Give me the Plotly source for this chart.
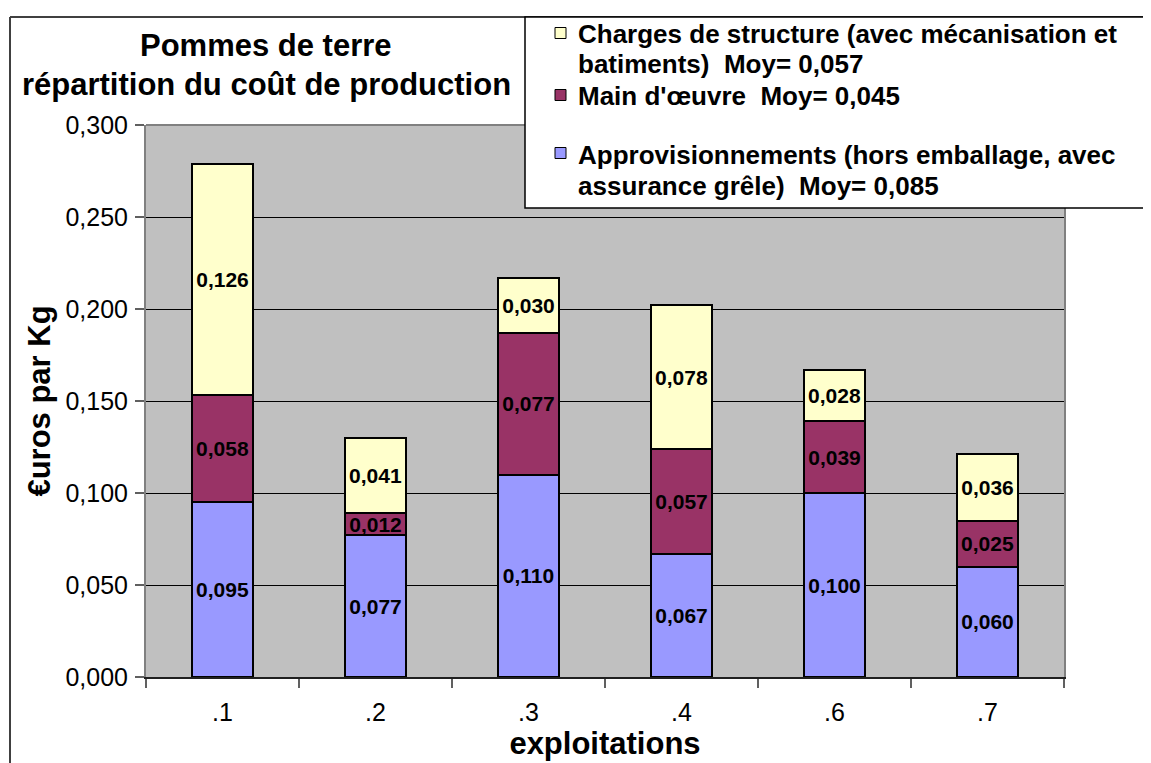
import plotly.graph_objects as go

# données (euros par kg)
categories = [".1", ".2", ".3", ".4", ".6", ".7"]
appro = [0.095, 0.077, 0.110, 0.067, 0.100, 0.060]
main_oeuvre = [0.058, 0.012, 0.077, 0.057, 0.039, 0.025]
charges = [0.126, 0.041, 0.030, 0.078, 0.028, 0.036]
y_ticks = [0.0, 0.05, 0.10, 0.15, 0.20, 0.25, 0.30]

title_lines = ["Pommes de terre", "répartition du coût de production"]
legend_charges = ["Charges de structure (avec mécanisation et", "batiments)\u00a0 Moy= 0,057"]
legend_main = ["Main d'œuvre\u00a0 Moy= 0,045"]
legend_appro = ["Approvisionnements (hors emballage, avec", "assurance grêle)\u00a0 Moy= 0,085"]

FONT = "Liberation Sans, Arial, sans-serif"
OFF = 8  # marge du body html
W, H = 1151 - OFF, 763 - OFF
L, R, T, B = 146, 1064, 125, 677  # zone de tracé, en pixels de l'écran


def px(x):
    return (x - L) / (R - L)


def py(y):
    return (B - y) / (B - T)


fig = go.Figure()
for vals, color, name in [(appro, "#9999FF", "appro"),
                          (main_oeuvre, "#993366", "main"),
                          (charges, "#FFFFCC", "charges")]:
    fig.add_trace(go.Bar(
        x=categories, y=vals, name=name,
        marker=dict(color=color, line=dict(color="black", width=2)),
        texttemplate="%{y:.3f}", textposition="inside",
        insidetextanchor="middle", constraintext="none",
        textfont=dict(family=FONT, size=21, color="black", weight="bold"),
        showlegend=False,
    ))

shapes = []
# cadre extérieur (bords gauche et haut)
shapes.append(dict(type="line", xref="paper", yref="paper", x0=px(10), x1=px(10),
                   y0=py(17), y1=py(800), line=dict(color="#404040", width=2)))
shapes.append(dict(type="line", xref="paper", yref="paper", x0=px(10), x1=px(1200),
                   y0=py(17), y1=py(17), line=dict(color="#404040", width=2)))
# bord supérieur de la zone de tracé
shapes.append(dict(type="line", xref="paper", yref="paper", x0=0, x1=1, y0=1, y1=1,
                   line=dict(color="#808080", width=2)))
# boîte de légende
shapes.append(dict(type="rect", xref="paper", yref="paper", x0=px(525), x1=px(1148),
                   y0=py(208), y1=py(17), fillcolor="white", line=dict(color="black", width=1.5)))

annotations = []
for txt, yc in zip(title_lines, [46, 85]):
    annotations.append(dict(text="<b>" + txt + "</b>", xref="paper", yref="paper",
                            x=px(266), y=py(yc), xanchor="center", yanchor="middle",
                            showarrow=False, font=dict(family=FONT, size=31, color="black")))

legend_items = [(legend_charges, "#FFFFCC", [34, 64], 33),
                (legend_main, "#993366", [96], 95),
                (legend_appro, "#9999FF", [155, 186], 153)]
for lines, color, ys, sy in legend_items:
    shapes.append(dict(type="rect", xref="paper", yref="paper", x0=px(555), x1=px(566),
                       y0=py(sy + 5.5), y1=py(sy - 5.5), fillcolor=color,
                       line=dict(color="black", width=1)))
    for txt, yc in zip(lines, ys):
        annotations.append(dict(text="<b>" + txt + "</b>", xref="paper", yref="paper",
                                x=px(576), y=py(yc), xanchor="left", yanchor="middle",
                                showarrow=False, font=dict(family=FONT, size=26, color="black")))

fig.update_layout(
    barmode="stack", bargap=0.595,
    width=W, height=H,
    margin=dict(l=L - OFF, r=W - (R - OFF), t=T - OFF, b=H - (B - OFF), autoexpand=False),
    paper_bgcolor="white", plot_bgcolor="#C0C0C0",
    separators=", ",
    font=dict(family=FONT, color="black"),
    shapes=shapes, annotations=annotations,
)
fig.update_xaxes(
    type="category", showline=True, linecolor="#202020", linewidth=2,
    ticks="outside", tickson="boundaries", ticklen=9, tickcolor="#606060", tickwidth=1.5,
    tickfont=dict(size=25, color="black"), ticklabelstandoff=12, showgrid=False,
    title=dict(text="<b>exploitations</b>", font=dict(size=31, color="black"), standoff=2),
)
fig.update_yaxes(
    range=[0, 0.3], tickvals=y_ticks, tickformat=".3f",
    showline=True, mirror=True, linecolor="#808080", linewidth=2,
    ticks="outside", ticklen=9, tickcolor="#606060", tickwidth=1.5,
    tickfont=dict(size=25, color="black"), ticklabelstandoff=2,
    showgrid=True, gridcolor="black", gridwidth=1, zeroline=False,
    title=dict(text="<b>€uros par Kg</b>", font=dict(size=31, color="black"), standoff=6),
)

fig.write_html("out.html")
